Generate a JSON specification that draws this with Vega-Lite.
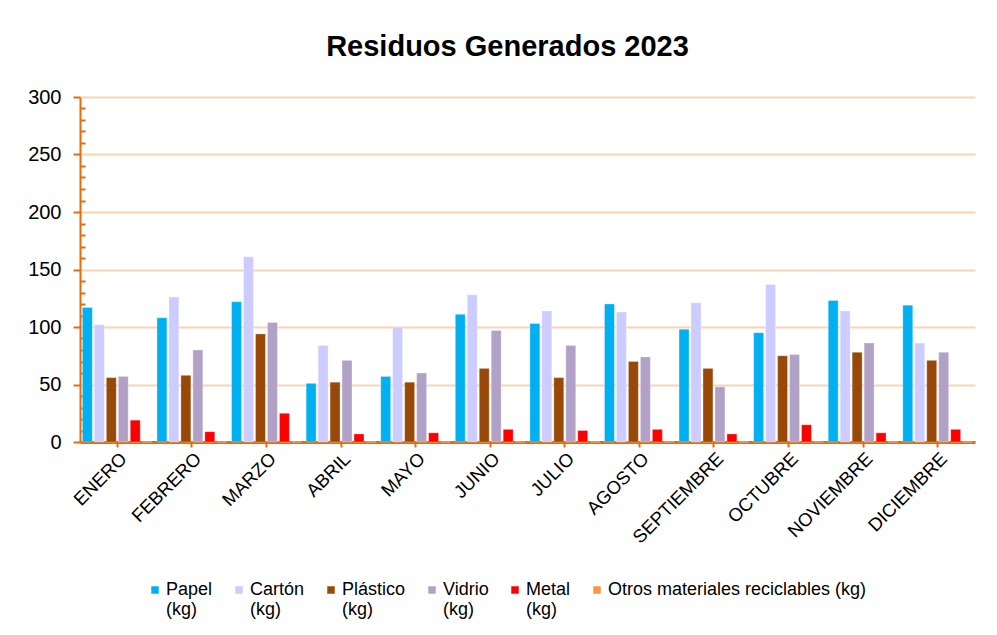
{
  "$schema": "https://vega.github.io/schema/vega-lite/v6.json",
  "autosize": {"type": "none"},
  "width": 895,
  "height": 345,
  "padding": {"left": 80, "top": 97, "right": 22, "bottom": 193},
  "background": "white",
  "title": {
    "text": "Residuos Generados 2023",
    "font": "Liberation Sans",
    "fontSize": 29,
    "fontWeight": "bold",
    "color": "#000000",
    "anchor": "middle",
    "dx": -20,
    "offset": 25
  },
  "data": {
    "values": [
      {"mes": "ENERO", "material": "Papel (kg)", "kg": 117},
      {"mes": "ENERO", "material": "Cartón (kg)", "kg": 102},
      {"mes": "ENERO", "material": "Plástico (kg)", "kg": 56},
      {"mes": "ENERO", "material": "Vidrio (kg)", "kg": 57},
      {"mes": "ENERO", "material": "Metal (kg)", "kg": 19},
      {"mes": "ENERO", "material": "Otros materiales reciclables (kg)", "kg": 0},
      {"mes": "FEBRERO", "material": "Papel (kg)", "kg": 108},
      {"mes": "FEBRERO", "material": "Cartón (kg)", "kg": 126},
      {"mes": "FEBRERO", "material": "Plástico (kg)", "kg": 58},
      {"mes": "FEBRERO", "material": "Vidrio (kg)", "kg": 80},
      {"mes": "FEBRERO", "material": "Metal (kg)", "kg": 9},
      {"mes": "FEBRERO", "material": "Otros materiales reciclables (kg)", "kg": 0},
      {"mes": "MARZO", "material": "Papel (kg)", "kg": 122},
      {"mes": "MARZO", "material": "Cartón (kg)", "kg": 161},
      {"mes": "MARZO", "material": "Plástico (kg)", "kg": 94},
      {"mes": "MARZO", "material": "Vidrio (kg)", "kg": 104},
      {"mes": "MARZO", "material": "Metal (kg)", "kg": 25},
      {"mes": "MARZO", "material": "Otros materiales reciclables (kg)", "kg": 0},
      {"mes": "ABRIL", "material": "Papel (kg)", "kg": 51},
      {"mes": "ABRIL", "material": "Cartón (kg)", "kg": 84},
      {"mes": "ABRIL", "material": "Plástico (kg)", "kg": 52},
      {"mes": "ABRIL", "material": "Vidrio (kg)", "kg": 71},
      {"mes": "ABRIL", "material": "Metal (kg)", "kg": 7},
      {"mes": "ABRIL", "material": "Otros materiales reciclables (kg)", "kg": 0},
      {"mes": "MAYO", "material": "Papel (kg)", "kg": 57},
      {"mes": "MAYO", "material": "Cartón (kg)", "kg": 100},
      {"mes": "MAYO", "material": "Plástico (kg)", "kg": 52},
      {"mes": "MAYO", "material": "Vidrio (kg)", "kg": 60},
      {"mes": "MAYO", "material": "Metal (kg)", "kg": 8},
      {"mes": "MAYO", "material": "Otros materiales reciclables (kg)", "kg": 0},
      {"mes": "JUNIO", "material": "Papel (kg)", "kg": 111},
      {"mes": "JUNIO", "material": "Cartón (kg)", "kg": 128},
      {"mes": "JUNIO", "material": "Plástico (kg)", "kg": 64},
      {"mes": "JUNIO", "material": "Vidrio (kg)", "kg": 97},
      {"mes": "JUNIO", "material": "Metal (kg)", "kg": 11},
      {"mes": "JUNIO", "material": "Otros materiales reciclables (kg)", "kg": 0},
      {"mes": "JULIO", "material": "Papel (kg)", "kg": 103},
      {"mes": "JULIO", "material": "Cartón (kg)", "kg": 114},
      {"mes": "JULIO", "material": "Plástico (kg)", "kg": 56},
      {"mes": "JULIO", "material": "Vidrio (kg)", "kg": 84},
      {"mes": "JULIO", "material": "Metal (kg)", "kg": 10},
      {"mes": "JULIO", "material": "Otros materiales reciclables (kg)", "kg": 0},
      {"mes": "AGOSTO", "material": "Papel (kg)", "kg": 120},
      {"mes": "AGOSTO", "material": "Cartón (kg)", "kg": 113},
      {"mes": "AGOSTO", "material": "Plástico (kg)", "kg": 70},
      {"mes": "AGOSTO", "material": "Vidrio (kg)", "kg": 74},
      {"mes": "AGOSTO", "material": "Metal (kg)", "kg": 11},
      {"mes": "AGOSTO", "material": "Otros materiales reciclables (kg)", "kg": 0},
      {"mes": "SEPTIEMBRE", "material": "Papel (kg)", "kg": 98},
      {"mes": "SEPTIEMBRE", "material": "Cartón (kg)", "kg": 121},
      {"mes": "SEPTIEMBRE", "material": "Plástico (kg)", "kg": 64},
      {"mes": "SEPTIEMBRE", "material": "Vidrio (kg)", "kg": 48},
      {"mes": "SEPTIEMBRE", "material": "Metal (kg)", "kg": 7},
      {"mes": "SEPTIEMBRE", "material": "Otros materiales reciclables (kg)", "kg": 0},
      {"mes": "OCTUBRE", "material": "Papel (kg)", "kg": 95},
      {"mes": "OCTUBRE", "material": "Cartón (kg)", "kg": 137},
      {"mes": "OCTUBRE", "material": "Plástico (kg)", "kg": 75},
      {"mes": "OCTUBRE", "material": "Vidrio (kg)", "kg": 76},
      {"mes": "OCTUBRE", "material": "Metal (kg)", "kg": 15},
      {"mes": "OCTUBRE", "material": "Otros materiales reciclables (kg)", "kg": 0},
      {"mes": "NOVIEMBRE", "material": "Papel (kg)", "kg": 123},
      {"mes": "NOVIEMBRE", "material": "Cartón (kg)", "kg": 114},
      {"mes": "NOVIEMBRE", "material": "Plástico (kg)", "kg": 78},
      {"mes": "NOVIEMBRE", "material": "Vidrio (kg)", "kg": 86},
      {"mes": "NOVIEMBRE", "material": "Metal (kg)", "kg": 8},
      {"mes": "NOVIEMBRE", "material": "Otros materiales reciclables (kg)", "kg": 0},
      {"mes": "DICIEMBRE", "material": "Papel (kg)", "kg": 119},
      {"mes": "DICIEMBRE", "material": "Cartón (kg)", "kg": 86},
      {"mes": "DICIEMBRE", "material": "Plástico (kg)", "kg": 71},
      {"mes": "DICIEMBRE", "material": "Vidrio (kg)", "kg": 78},
      {"mes": "DICIEMBRE", "material": "Metal (kg)", "kg": 11},
      {"mes": "DICIEMBRE", "material": "Otros materiales reciclables (kg)", "kg": 0}
    ]
  },
  "mark": {"type": "bar", "stroke": "white", "strokeWidth": 0.5, "strokeOpacity": 0.6},
  "encoding": {
    "x": {
      "field": "mes",
      "type": "nominal",
      "sort": ["ENERO","FEBRERO","MARZO","ABRIL","MAYO","JUNIO","JULIO","AGOSTO","SEPTIEMBRE","OCTUBRE","NOVIEMBRE","DICIEMBRE"],
      "scale": {"paddingInner": 0, "paddingOuter": 0},
      "axis": {
        "title": null,
        "labelAngle": -45,
        "labelAlign": "right",
        "labelBaseline": "top",
        "labelFont": "Liberation Sans",
        "labelFontSize": 18.5,
        "labelColor": "#000000",
        "labelPadding": 2,
        "domainColor": "#E46C0A",
        "domainWidth": 3,
        "tickColor": "#E46C0A",
        "tickWidth": 2,
        "tickSize": 5
      }
    },
    "xOffset": {
      "field": "material",
      "type": "nominal",
      "sort": ["Papel (kg)","Cartón (kg)","Plástico (kg)","Vidrio (kg)","Metal (kg)","Otros materiales reciclables (kg)"],
      "scale": {"paddingInner": 0.17, "paddingOuter": 0.2}
    },
    "y": {
      "field": "kg",
      "type": "quantitative",
      "scale": {"domain": [0, 300], "nice": false},
      "axis": {
        "title": null,
        "values": [0,10,20,30,40,50,60,70,80,90,100,110,120,130,140,150,160,170,180,190,200,210,220,230,240,250,260,270,280,290,300],
        "labelExpr": "datum.value % 50 === 0 ? datum.label : ''",
        "labelFont": "Liberation Sans",
        "labelFontSize": 20,
        "labelColor": "#000000",
        "labelPadding": 12,
        "domainColor": "#E46C0A",
        "domainWidth": 2,
        "tickColor": "#E46C0A",
        "tickWidth": 2,
        "tickSize": {"condition": {"test": "datum.value % 50 === 0", "value": 7}, "value": -5},
        "grid": true,
        "gridColor": "#FAD4B2",
        "gridWidth": 2,
        "gridOpacity": {"condition": {"test": "datum.value % 50 === 0 && datum.value > 0", "value": 1}, "value": 0}
      }
    },
    "color": {
      "field": "material",
      "type": "nominal",
      "sort": ["Papel (kg)","Cartón (kg)","Plástico (kg)","Vidrio (kg)","Metal (kg)","Otros materiales reciclables (kg)"],
      "scale": {
        "domain": ["Papel (kg)","Cartón (kg)","Plástico (kg)","Vidrio (kg)","Metal (kg)","Otros materiales reciclables (kg)"],
        "range": ["#00B0F0","#CCCCFF","#984807","#B2A1C7","#FF0000","#F79646"]
      },
      "legend": {
        "title": null,
        "orient": "none",
        "direction": "horizontal",
        "legendX": 66,
        "legendY": 484,
        "symbolType": "square",
        "symbolSize": 56,
        "symbolStrokeWidth": 0,
        "labelFont": "Liberation Sans",
        "labelFontSize": 18,
        "labelColor": "#000000",
        "labelOffset": 2,
        "labelLimit": 400,
        "columnPadding": 17,
        "labelExpr": "indexof(datum.label, 'Otros') === 0 ? [datum.label, ''] : split(datum.label, ' ')"
      }
    }
  },
  "config": {
    "view": {"stroke": null},
    "font": "Liberation Sans"
  }
}
